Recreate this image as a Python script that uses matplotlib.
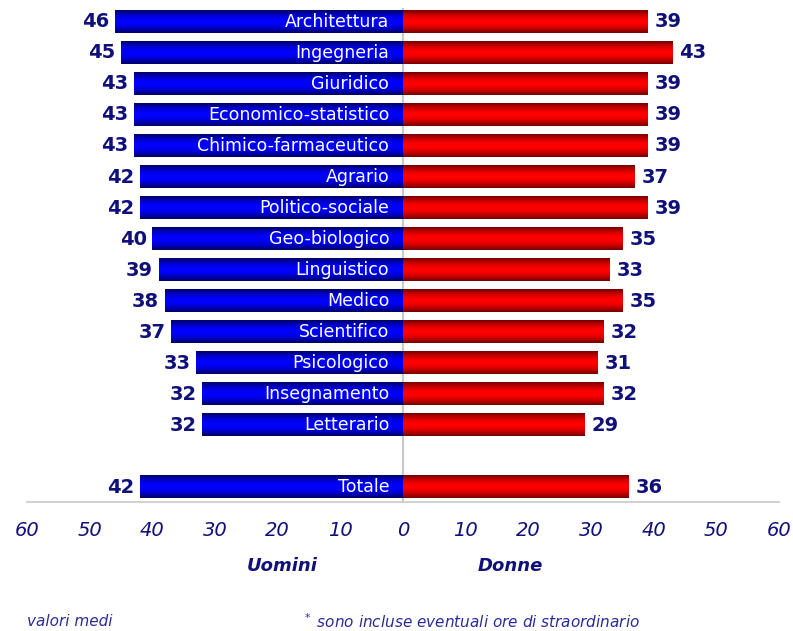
import numpy as np
import matplotlib.pyplot as plt
from matplotlib.colors import LinearSegmentedColormap

categories = ['Architettura', 'Ingegneria', 'Giuridico', 'Economico-statistico',
              'Chimico-farmaceutico', 'Agrario', 'Politico-sociale', 'Geo-biologico',
              'Linguistico', 'Medico', 'Scientifico', 'Psicologico', 'Insegnamento',
              'Letterario', 'Totale']
uomini = [46, 45, 43, 43, 43, 42, 42, 40, 39, 38, 37, 33, 32, 32, 42]
donne = [39, 43, 39, 39, 39, 37, 39, 35, 33, 35, 32, 31, 32, 29, 36]
ticks = [-60, -50, -40, -30, -20, -10, 0, 10, 20, 30, 40, 50, 60]

NAVY = '#10107a'

# rows 0..13, then an empty row, then Totale
ypos = list(range(len(categories) - 1)) + [len(categories)]

# vertical gradient: dark edges, bright centre
t = np.linspace(0, 1, 64)
grad = (1 - np.abs(2 * t - 1) ** 1.8).reshape(-1, 1)
blue_cm = LinearSegmentedColormap.from_list('b', ['#000060', '#0000ff'])
red_cm = LinearSegmentedColormap.from_list('r', ['#700000', '#ff0000'])

fig = plt.figure(figsize=(7.93, 6.31), dpi=100)
ax = fig.add_axes([27 / 793, 1 - 502 / 631, (779 - 27) / 793, 494 / 631])

h = 0.72
for y, cat, u, d in zip(ypos, categories, uomini, donne):
    ax.imshow(grad, extent=(-u, 0, y + h / 2, y - h / 2), cmap=blue_cm,
              aspect='auto', interpolation='bilinear', zorder=2)
    ax.imshow(grad, extent=(0, d, y + h / 2, y - h / 2), cmap=red_cm,
              aspect='auto', interpolation='bilinear', zorder=2)
    ax.text(-2.2, y, cat, color='white', ha='right', va='center',
            fontsize=12.5, zorder=3)
    ax.annotate(str(u), (-u, y), xytext=(-4, 0), textcoords='offset points',
                ha='right', va='center', fontsize=14, fontweight='bold', color=NAVY)
    ax.annotate(str(d), (d, y), xytext=(5, 0), textcoords='offset points',
                ha='left', va='center', fontsize=14, fontweight='bold', color=NAVY)

ax.axvline(0, color='#c8c8c8', lw=1.5, zorder=1)
ax.set_xlim(-60, 60)
ax.set_ylim(15.48, -0.45)

ax.set_xticks(ticks)
ax.set_xticklabels([str(abs(v)) for v in ticks], fontsize=14, style='italic', color=NAVY)
ax.tick_params(axis='x', length=0, pad=14)
ax.set_yticks([])
for s in ['top', 'left', 'right']:
    ax.spines[s].set_visible(False)
ax.spines['bottom'].set_color('#c8c8c8')
ax.spines['bottom'].set_linewidth(1.2)

fig.text(282 / 793, 1 - 566 / 631, 'Uomini', ha='center', va='center', fontsize=13,
         fontweight='bold', style='italic', color=NAVY)
fig.text(510 / 793, 1 - 566 / 631, 'Donne', ha='center', va='center', fontsize=13,
         fontweight='bold', style='italic', color=NAVY)
fig.text(27 / 793, 1 - 622 / 631, 'valori medi', ha='left', va='center', fontsize=11,
         style='italic', color='#2a2a9a')
fig.text(302 / 793, 1 - 622 / 631, '$^*$ sono incluse eventuali ore di straordinario',
         ha='left', va='center', fontsize=11, style='italic', color='#2a2a9a')

fig.savefig('out.png', dpi=100)
